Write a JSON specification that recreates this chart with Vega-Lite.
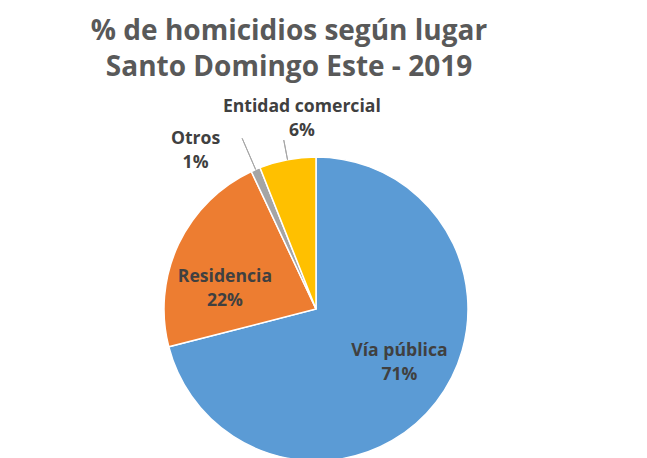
{
  "$schema": "https://vega.github.io/schema/vega-lite/v6.json",
  "autosize": "none",
  "padding": {"left": 0, "top": 157, "right": 0, "bottom": 0},
  "width": 632,
  "height": 304,
  "background": "white",
  "config": {"view": {"stroke": null}},
  "title": {
    "text": ["% de homicidios según lugar", "Santo Domingo Este - 2019"],
    "font": "Open Sans",
    "fontSize": 28,
    "fontWeight": "bold",
    "color": "#595959",
    "lineHeight": 36,
    "anchor": "middle",
    "dx": -27,
    "offset": 16
  },
  "data": {
    "values": [
      {"cat": "Vía pública", "value": 71, "ord": 1},
      {"cat": "Residencia", "value": 22, "ord": 2},
      {"cat": "Otros", "value": 1, "ord": 3},
      {"cat": "Entidad comercial", "value": 6, "ord": 4}
    ]
  },
  "transform": [{"calculate": "datum.cat + '\\n' + datum.value + '%'", "as": "label"}],
  "encoding": {
    "theta": {"field": "value", "type": "quantitative", "stack": true},
    "order": {"field": "ord", "type": "quantitative"}
  },
  "layer": [
    {
      "mark": {"type": "arc", "stroke": "white", "strokeWidth": 1.5},
      "encoding": {
        "color": {
          "field": "cat",
          "type": "nominal",
          "scale": {
            "domain": ["Vía pública", "Residencia", "Otros", "Entidad comercial"],
            "range": ["#5B9BD5", "#ED7D31", "#A5A5A5", "#FFC000"]
          },
          "legend": null
        }
      }
    },
    {
      "mark": {"type": "arc", "filled": false, "padAngle": 3, "strokeWidth": 1},
      "encoding": {
        "radius": {"value": 186},
        "radius2": {"value": 152},
        "stroke": {"condition": {"test": "datum.cat === 'Otros'", "value": "#a6a6a6"}, "value": null}
      }
    },
    {
      "mark": {"type": "arc", "filled": false, "padAngle": 3, "strokeWidth": 1},
      "encoding": {
        "radius": {"value": 172},
        "radius2": {"value": 152},
        "stroke": {"condition": {"test": "datum.cat === 'Entidad comercial'", "value": "#a6a6a6"}, "value": null}
      }
    },
    {
      "mark": {"type": "text", "font": "Open Sans", "fontSize": 17.6, "fontWeight": "bold", "fill": "#404040", "lineBreak": "\n", "lineHeight": 24, "dx": 6, "dy": -18},
      "encoding": {
        "radius": {"value": 98},
        "text": {"condition": {"test": "datum.cat === 'Vía pública'", "field": "label"}, "value": ""}
      }
    },
    {
      "mark": {"type": "text", "font": "Open Sans", "fontSize": 17.6, "fontWeight": "bold", "fill": "#404040", "lineBreak": "\n", "lineHeight": 24, "dx": -6, "dy": 8},
      "encoding": {
        "radius": {"value": 94},
        "text": {"condition": {"test": "datum.cat === 'Residencia'", "field": "label"}, "value": ""}
      }
    },
    {
      "mark": {"type": "text", "font": "Open Sans", "fontSize": 17.6, "fontWeight": "bold", "fill": "#404040", "lineBreak": "\n", "lineHeight": 24, "dx": -41, "dy": 14},
      "encoding": {
        "radius": {"value": 200},
        "text": {"condition": {"test": "datum.cat === 'Otros'", "field": "label"}, "value": ""}
      }
    },
    {
      "mark": {"type": "text", "font": "Open Sans", "fontSize": 17.6, "fontWeight": "bold", "fill": "#404040", "lineBreak": "\n", "lineHeight": 24, "dx": 22, "dy": -12},
      "encoding": {
        "radius": {"value": 193},
        "text": {"condition": {"test": "datum.cat === 'Entidad comercial'", "field": "label"}, "value": ""}
      }
    }
  ]
}
